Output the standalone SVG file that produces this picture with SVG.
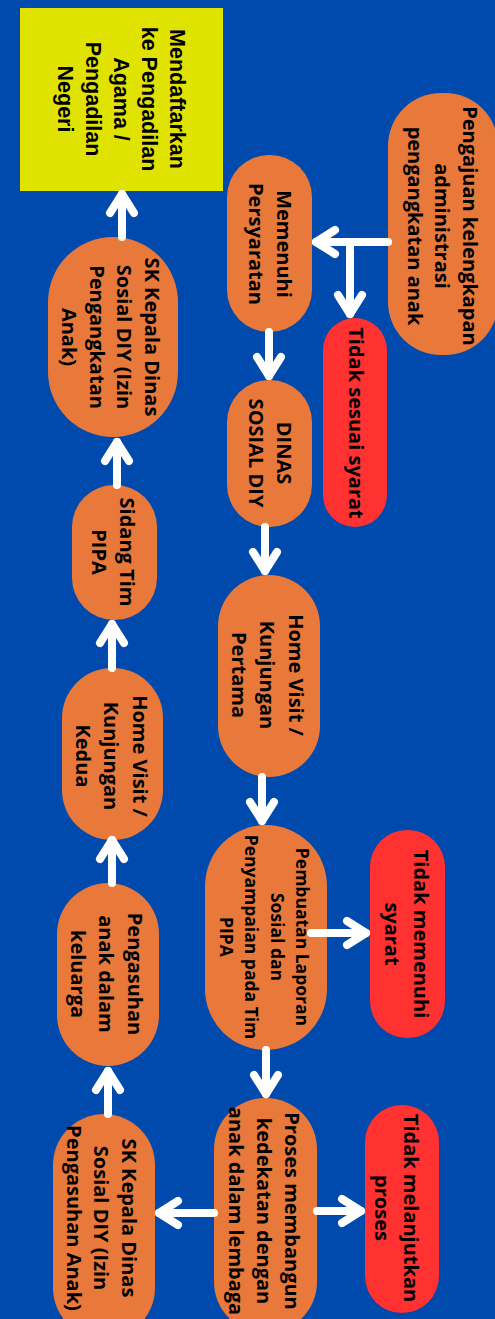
<svg xmlns="http://www.w3.org/2000/svg" width="495" height="1319" viewBox="0 0 495 1319">
<style>
.bg{fill:#004AAD}
.o{fill:#E8793A}
.r{fill:#FF3131}
.y{fill:#E0E200}
.t{font-family:"Open Sans","DejaVu Sans",sans-serif;font-weight:700;font-size:20px;fill:#000;text-anchor:middle;dominant-baseline:central}
.ts{font-size:17.5px}
.ta{font-family:"Liberation Sans",Arial,sans-serif;font-weight:700;font-size:21.5px;fill:#000;text-anchor:middle;dominant-baseline:central}
.c{fill:none;stroke:#fff;stroke-width:8;stroke-linecap:round;stroke-linejoin:round;marker-end:url(#ah)}
</style>
<defs>
<marker id="ah" markerUnits="userSpaceOnUse" markerWidth="50" markerHeight="50" viewBox="-25 -25 50 50" refX="0" refY="0" orient="auto" overflow="visible">
<path d="M-19,-12 L0,0 L-19,12" fill="none" stroke="#fff" stroke-width="8" stroke-linecap="round" stroke-linejoin="round"/>
</marker>
</defs>
<rect class="bg" x="0" y="0" width="495" height="1319"/>

<g id="n-pengajuan">
<rect class="o" x="388" y="93" width="110" height="262" rx="53"/>
<text class="t" transform="rotate(90 443 226)"><tspan x="443" y="198.5">Pengajuan kelengkapan</tspan><tspan x="443" y="226">administrasi</tspan><tspan x="443" y="253.5">pengangkatan anak</tspan></text>
</g>
<g id="n-memenuhi">
<rect class="o" x="227" y="155" width="85" height="177" rx="42"/>
<text class="t" transform="rotate(90 271 244)"><tspan x="271" y="230">Memenuhi</tspan><tspan x="271" y="258">Persyaratan</tspan></text>
</g>
<g id="n-tidak-sesuai">
<rect class="r" x="323" y="318" width="64" height="209" rx="32"/>
<text class="t" transform="rotate(90 357 423)"><tspan x="357" y="423">Tidak sesuai syarat</tspan></text>
</g>
<g id="n-dinas">
<rect class="o" x="227" y="380" width="85" height="147" rx="42"/>
<text class="t" transform="rotate(90 271 453)"><tspan x="271" y="439">DINAS</tspan><tspan x="271" y="467">SOSIAL DIY</tspan></text>
</g>
<g id="n-homevisit1">
<rect class="o" x="218" y="575" width="102" height="202" rx="51"/>
<text class="t" transform="rotate(90 268 675)"><tspan x="268" y="646.5">Home Visit /</tspan><tspan x="268" y="675">Kunjungan</tspan><tspan x="268" y="703.5">Pertama</tspan></text>
</g>
<g id="n-pembuatan">
<rect class="o" x="205" y="825" width="122" height="225" rx="61"/>
<text class="t ts" transform="rotate(90 265 937)"><tspan x="265" y="899">Pembuatan Laporan</tspan><tspan x="265" y="924.3">Sosial dan</tspan><tspan x="265" y="949.7">Penyampaian pada Tim</tspan><tspan x="265" y="975">PIPA</tspan></text>
</g>
<g id="n-tidak-memenuhi">
<rect class="r" x="370" y="830" width="75" height="208" rx="37"/>
<text class="t" transform="rotate(90 407.5 934)"><tspan x="407.5" y="919.5">Tidak memenuhi</tspan><tspan x="407.5" y="948.5">syarat</tspan></text>
</g>
<g id="n-proses">
<rect class="o" x="214" y="1098" width="103" height="235" rx="51"/>
<text class="t" transform="rotate(90 265 1211)"><tspan x="265" y="1183">Proses membangun</tspan><tspan x="265" y="1211">kedekatan dengan</tspan><tspan x="265" y="1239">anak dalam lembaga</tspan></text>
</g>
<g id="n-tidak-melanjutkan">
<rect class="r" x="365" y="1105" width="74" height="208" rx="37"/>
<text class="t" transform="rotate(90 397.5 1208)"><tspan x="397.5" y="1193.5">Tidak melanjutkan</tspan><tspan x="397.5" y="1222.5">proses</tspan></text>
</g>
<g id="n-sk-pengasuhan">
<rect class="o" x="53" y="1114" width="102" height="225" rx="51"/>
<text class="t" transform="rotate(90 102 1218)"><tspan x="102" y="1190.5">SK Kepala Dinas</tspan><tspan x="102" y="1218">Sosial DIY (Izin</tspan><tspan x="102" y="1245.5">Pengasuhan Anak)</tspan></text>
</g>
<g id="n-pengasuhan">
<rect class="o" x="57" y="883" width="102" height="183" rx="51"/>
<text class="t" transform="rotate(90 107 974)"><tspan x="107" y="945.5">Pengasuhan</tspan><tspan x="107" y="974">anak dalam</tspan><tspan x="107" y="1002.5">keluarga</tspan></text>
</g>
<g id="n-homevisit2">
<rect class="o" x="62" y="668" width="101" height="172" rx="50"/>
<text class="t" transform="rotate(90 112 756)"><tspan x="112" y="727.5">Home Visit /</tspan><tspan x="112" y="756">Kunjungan</tspan><tspan x="112" y="784.5">Kedua</tspan></text>
</g>
<g id="n-sidang">
<rect class="o" x="72" y="485" width="85" height="135" rx="42"/>
<text class="t" transform="rotate(90 114 552)"><tspan x="114" y="538">Sidang Tim</tspan><tspan x="114" y="566">PIPA</tspan></text>
</g>
<g id="n-sk-pengangkatan">
<rect class="o" x="48" y="237" width="130" height="200" rx="65"/>
<text class="t" transform="rotate(90 111.5 337)"><tspan x="111.5" y="295.5">SK Kepala Dinas</tspan><tspan x="111.5" y="323.2">Sosial DIY (Izin</tspan><tspan x="111.5" y="350.9">Pengangkatan</tspan><tspan x="111.5" y="378.6">Anak)</tspan></text>
</g>
<g id="n-mendaftarkan">
<rect class="y" x="20" y="8" width="203" height="183"/>
<text class="ta" transform="rotate(90 121 99)"><tspan x="121" y="43">Mendaftarkan</tspan><tspan x="121" y="71">ke Pengadilan</tspan><tspan x="121" y="99">Agama /</tspan><tspan x="121" y="127">Pengadilan</tspan><tspan x="121" y="155">Negeri</tspan></text>
</g>

<g id="connectors">
<path class="c" d="M388,242 H316"/>
<path class="c" d="M350,242 V314"/>
<path class="c" d="M269,332 V376"/>
<path class="c" d="M265,527 V571"/>
<path class="c" d="M262,777 V821"/>
<path class="c" d="M311,933 H366"/>
<path class="c" d="M266,1050 V1094"/>
<path class="c" d="M317,1211 H361"/>
<path class="c" d="M214,1213 H159"/>
<path class="c" d="M108,1114 V1071"/>
<path class="c" d="M112,883 V840"/>
<path class="c" d="M112,668 V624"/>
<path class="c" d="M117,485 V442"/>
<path class="c" d="M122,237 V194"/>
</g>
</svg>
